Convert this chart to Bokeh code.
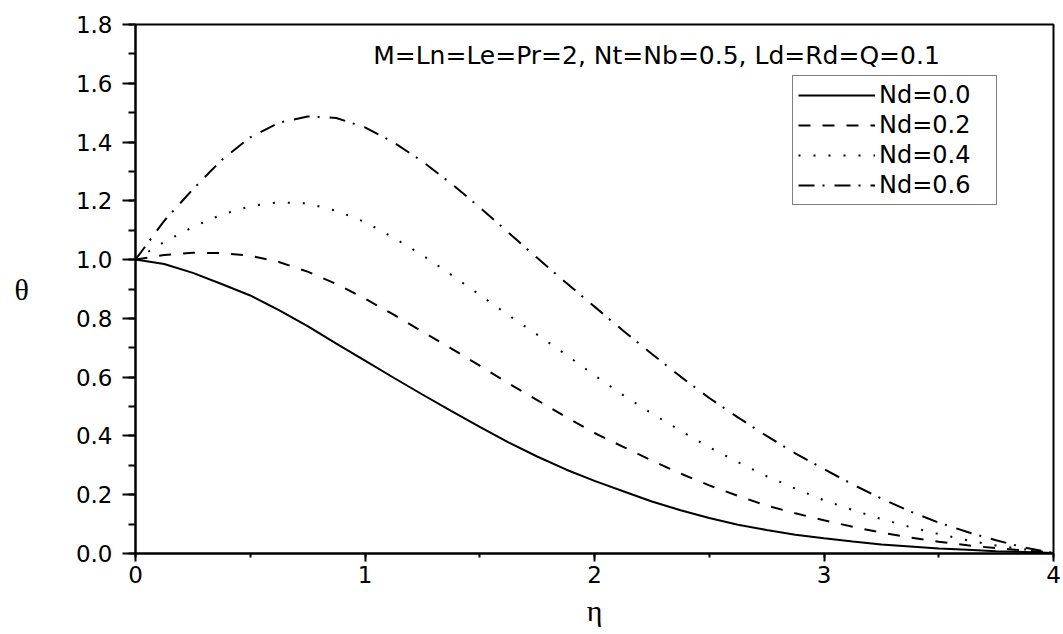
from bokeh.plotting import figure
from bokeh.models import Range1d, SingleIntervalTicker, PrintfTickFormatter, Legend, LegendItem, Label
from bokeh.embed import file_html
from bokeh.resources import INLINE

eta = [0.0, 0.125, 0.25, 0.375, 0.5, 0.625, 0.75, 0.875, 1.0, 1.125, 1.25, 1.375,
       1.5, 1.625, 1.75, 1.875, 2.0, 2.125, 2.25, 2.375, 2.5, 2.625, 2.75, 2.875,
       3.0, 3.125, 3.25, 3.375, 3.5, 3.625, 3.75, 3.875, 4.0]
nd00 = [1.0, 0.985, 0.955, 0.917, 0.878, 0.828, 0.774, 0.714, 0.656, 0.598, 0.541, 0.485,
        0.431, 0.378, 0.330, 0.286, 0.247, 0.212, 0.177, 0.147, 0.121, 0.098, 0.080, 0.064,
        0.052, 0.041, 0.031, 0.024, 0.017, 0.013, 0.008, 0.005, 0.002]
nd02 = [1.0, 1.016, 1.023, 1.022, 1.013, 0.992, 0.959, 0.917, 0.867, 0.813, 0.755, 0.698,
        0.639, 0.579, 0.522, 0.465, 0.410, 0.363, 0.316, 0.272, 0.232, 0.196, 0.163, 0.137,
        0.113, 0.091, 0.071, 0.054, 0.040, 0.028, 0.018, 0.010, 0.003]
nd04 = [1.0, 1.060, 1.111, 1.153, 1.182, 1.195, 1.191, 1.166, 1.128, 1.074, 1.015, 0.949,
        0.880, 0.811, 0.745, 0.677, 0.606, 0.539, 0.476, 0.418, 0.361, 0.311, 0.263, 0.221,
        0.181, 0.148, 0.117, 0.090, 0.066, 0.045, 0.027, 0.014, 0.002]
nd06 = [1.0, 1.132, 1.239, 1.339, 1.416, 1.466, 1.487, 1.482, 1.450, 1.399, 1.334, 1.259,
        1.178, 1.092, 1.006, 0.922, 0.840, 0.758, 0.679, 0.602, 0.529, 0.463, 0.400, 0.341,
        0.287, 0.235, 0.187, 0.143, 0.105, 0.073, 0.045, 0.020, 0.002]
labels = ["Nd=0.0", "Nd=0.2", "Nd=0.4", "Nd=0.6"]
note = "M=Ln=Le=Pr=2, Nt=Nb=0.5, Ld=Rd=Q=0.1"

FONT = "DejaVu Sans"
SERIF = "Liberation Serif"

p = figure(width=1063, height=634, output_backend="svg", toolbar_location=None,
           x_range=Range1d(0, 4), y_range=Range1d(0, 1.8),
           min_border_left=135, min_border_right=10, min_border_top=24, min_border_bottom=81)
p.grid.visible = False
p.outline_line_color = "black"
p.outline_line_width = 2
p.background_fill_color = "white"
p.border_fill_color = "white"

p.xaxis.ticker = SingleIntervalTicker(interval=1, num_minor_ticks=2)
p.yaxis.ticker = SingleIntervalTicker(interval=0.2, num_minor_ticks=2)
p.yaxis.formatter = PrintfTickFormatter(format="%.1f")

for ax in (p.xaxis[0], p.yaxis[0]):
    ax.axis_line_width = 2
    ax.axis_line_color = "black"
    ax.major_tick_line_width = 2
    ax.minor_tick_line_width = 2
    ax.major_tick_line_color = "black"
    ax.minor_tick_line_color = "black"
    ax.major_tick_in = 0
    ax.minor_tick_in = 0
    ax.major_label_text_font = FONT
    ax.major_label_text_font_size = "23px"
    ax.major_label_text_color = "black"
    ax.axis_label_text_font = SERIF
    ax.axis_label_text_font_style = "normal"
    ax.axis_label_text_font_size = "30px"
    ax.axis_label_text_color = "black"

p.xaxis.major_tick_out = 8
p.xaxis.minor_tick_out = 4
p.xaxis.major_label_standoff = 4
p.xaxis.axis_label = "η"
p.xaxis.axis_label_standoff = 8

p.yaxis.major_tick_out = 13
p.yaxis.minor_tick_out = 7
p.yaxis.major_label_standoff = 10
p.yaxis.axis_label = "θ"
p.yaxis.axis_label_standoff = 44
try:
    p.yaxis[0].axis_label_orientation = "horizontal"
except Exception:
    pass

styles = [None, "12 12", "2 13", "16 8 2 10"]
series = [nd00, nd02, nd04, nd06]
items = []
for lab, ys, dash in zip(labels, series, styles):
    kw = {} if dash is None else {"line_dash": dash}
    r = p.line(eta, ys, line_color="black", line_width=2, **kw)
    items.append(LegendItem(label=lab, renderers=[r]))

legend = Legend(items=items, location=(657, 348),
                border_line_color="black", border_line_width=1,
                background_fill_color="white", background_fill_alpha=1,
                label_text_font=FONT, label_text_font_size="24px", label_text_color="black",
                glyph_width=77, glyph_height=28, label_height=28, label_width=112,
                label_standoff=4, spacing=2, padding=5, margin=0)
p.add_layout(legend, "center")

p.add_layout(Label(x=2.27, y=1.745, text=note, text_align="center", text_baseline="top",
                   text_font=FONT, text_font_size="25px", text_color="black"))

open("out.html", "w").write(file_html(p, INLINE))
